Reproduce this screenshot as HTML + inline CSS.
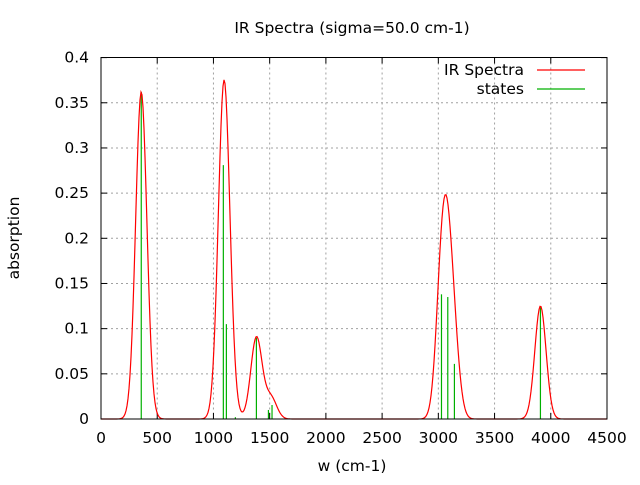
<!DOCTYPE html>
<html><head><meta charset="utf-8"><style>
body{margin:0;background:#fff}
svg text{font-family:"DejaVu Sans","Liberation Sans",sans-serif;font-size:15.5px;fill:#000}
</style></head><body>
<svg id="s" width="640" height="480" xmlns="http://www.w3.org/2000/svg">
<rect width="640" height="480" fill="#fff"/>
<g id="grid" stroke="#a0a0a0" stroke-width="1" stroke-dasharray="2,3"></g>
<g id="ticks" stroke="#000" stroke-width="1"></g>
<g id="labels"></g>
<g id="sticks" stroke="#00b000" stroke-width="1.2"></g>
<path id="curve" fill="none" stroke="#ff0000" stroke-width="1.2"/>
<rect x="101" y="57.5" width="506" height="361.5" fill="none" stroke="#000" stroke-width="1"/>
<text x="352" y="33" text-anchor="middle">IR Spectra (sigma=50.0 cm-1)</text>
<text x="352" y="471" text-anchor="middle">w (cm-1)</text>
<text transform="translate(19,238) rotate(-90)" text-anchor="middle">absorption</text>
<text x="524" y="75" text-anchor="end">IR Spectra</text>
<line x1="537" y1="70" x2="585" y2="70" stroke="#ff0000" stroke-width="1.2"/>
<text x="524" y="94" text-anchor="end">states</text>
<line x1="537" y1="89" x2="585" y2="89" stroke="#00b000" stroke-width="1.2"/>
</svg>
<script>
var NS="http://www.w3.org/2000/svg";
function X(v){return 101+v*506/4500;}
function Y(v){return 419-v*903.5;}
function el(p,t,a,txt){var e=document.createElementNS(NS,t);for(var k in a)e.setAttribute(k,a[k]);if(txt!==undefined)e.textContent=txt;document.getElementById(p).appendChild(e);}
for(var i=0;i<=9;i++){var v=i*500,x=X(v);
 if(i>0&&i<9)el("grid","line",{x1:x,y1:57.5,x2:x,y2:419});
 el("ticks","line",{x1:x,y1:419,x2:x,y2:413});el("ticks","line",{x1:x,y1:57.5,x2:x,y2:63.5});
 el("labels","text",{x:x,y:443,"text-anchor":"middle"},String(v));}
for(var j=0;j<=8;j++){var v=j*0.05,y=Y(v);
 if(j>0&&j<8)el("grid","line",{x1:101,y1:y,x2:607,y2:y});
 el("ticks","line",{x1:101,y1:y,x2:107,y2:y});el("ticks","line",{x1:607,y1:y,x2:601,y2:y});
 var s=(Math.round(v*100)/100).toString();
 el("labels","text",{x:89,y:y+5,"text-anchor":"end"},s);}
var st=[[358,0.362],[1088,0.281],[1115,0.105],[1195,0.002],[1382,0.090],[1489,0.010],[1521,0.0155],[3028,0.138],[3084,0.135],[3143,0.061],[3908,0.125]];
st.forEach(function(p){el("sticks","line",{x1:X(p[0]),y1:419,x2:X(p[0]),y2:Y(p[1])});});
var d="";
for(var px=101;px<=607;px+=1){var w=(px-101)*4500/506,a=0;
 st.forEach(function(p){a+=p[1]*Math.exp(-(w-p[0])*(w-p[0])/(2*50*50));});
 d+=(px==101?"M":"L")+px+","+Y(a).toFixed(2);}
document.getElementById("curve").setAttribute("d",d);
</script>
</body></html>
